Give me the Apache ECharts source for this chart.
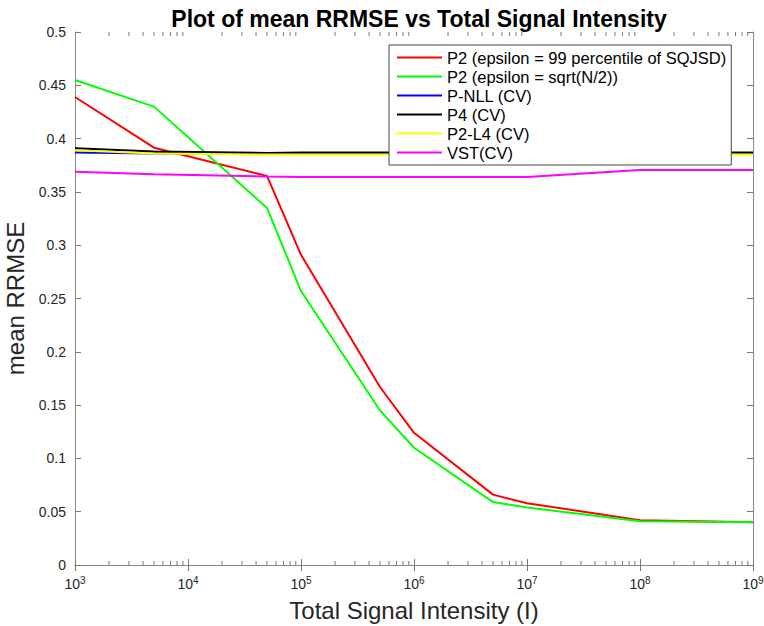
<!DOCTYPE html>
<html>
<head>
<meta charset="utf-8">
<script src="https://cdn.jsdelivr.net/npm/echarts@6/dist/echarts.min.js"></script>
<style>
  html, body { margin: 0; padding: 0; background: #fff; }
  #chart { width: 764px; height: 626px; }
</style>
</head>
<body>
<div id="chart"></div>
<script>
(function() {
  var font = '"Liberation Sans", Arial, Helvetica, sans-serif';

  // total signal intensity (x) sample points
  var intensity = [1e3, 5e3, 5e4, 1e5, 5e5, 1e6, 5e6, 1e7, 1e8, 1e9];

  var names = [
    'P2 (epsilon = 99 percentile of SQJSD)',
    'P2 (epsilon = sqrt(N/2))',
    'P-NLL (CV)',
    'P4 (CV)',
    'P2-L4 (CV)',
    'VST(CV)'
  ];
  var colors = ['#ff0000', '#00ff00', '#0000ff', '#000000', '#ffff00', '#ff00ff'];

  var p2Sqjsd = [0.439, 0.3915, 0.365, 0.291, 0.167, 0.124, 0.066, 0.058, 0.042, 0.040];
  var p2Sqrt  = [0.455, 0.430, 0.335, 0.257, 0.145, 0.110, 0.059, 0.054, 0.041, 0.040];
  var pNll    = [0.387, 0.386, 0.386, 0.386, 0.386, 0.386, 0.386, 0.386, 0.386, 0.386];
  var p4      = [0.391, 0.388, 0.3865, 0.387, 0.387, 0.387, 0.387, 0.387, 0.387, 0.387];
  var p2L4    = [0.389, 0.386, 0.385, 0.385, 0.385, 0.385, 0.385, 0.385, 0.385, 0.385];
  var vst     = [0.369, 0.3665, 0.3645, 0.364, 0.364, 0.364, 0.364, 0.364, 0.3705, 0.3705];
  var seriesValues = [p2Sqjsd, p2Sqrt, pNll, p4, p2L4, vst];

  // minor ticks of the log axis: 2..9 x 10^k
  var minorTicks = [];
  for (var k = 3; k < 9; k++) {
    for (var m = 2; m <= 9; m++) minorTicks.push(m * Math.pow(10, k));
  }

  var chart = echarts.init(document.getElementById('chart'), null, { renderer: 'svg' });

  var series = names.map(function(name, i) {
    return {
      name: name,
      type: 'line',
      data: intensity.map(function(x, j) { return [x, seriesValues[i][j]]; }),
      symbol: 'none',
      lineStyle: { color: colors[i], width: 2 },
      itemStyle: { color: colors[i] },
      z: 3 + i
    };
  });

  series.push({
    type: 'custom',
    silent: true,
    clip: false,
    data: minorTicks.map(function(v) { return [v]; }),
    renderItem: function(params, api) {
      var b = api.coord([api.value(0), 0]);
      var t = api.coord([api.value(0), 0.5]);
      var st = { stroke: '#777', lineWidth: 1 };
      return {
        type: 'group',
        children: [
          { type: 'line', shape: { x1: b[0], y1: b[1], x2: b[0], y2: b[1] - 4 }, style: st },
          { type: 'line', shape: { x1: t[0], y1: t[1], x2: t[0], y2: t[1] + 4 }, style: st }
        ]
      };
    },
    z: 2
  });

  var axisLine = { show: true, lineStyle: { color: '#888', width: 1 } };

  chart.setOption({
    animation: false,
    textStyle: { fontFamily: font },
    title: {
      text: 'Plot of mean RRMSE vs Total Signal Intensity',
      left: 414,
      top: 2,
      textAlign: 'center',
      textStyle: { fontFamily: font, fontSize: 23, fontWeight: 'bold', color: '#000' }
    },
    legend: {
      data: names,
      orient: 'vertical',
      left: 389,
      top: 45,
      z: 20,
      padding: [4, 5, 4, 8],
      itemGap: 2,
      itemWidth: 45,
      itemHeight: 2,
      icon: 'rect',
      backgroundColor: '#fff',
      borderColor: '#444',
      borderWidth: 1,
      textStyle: { fontFamily: font, fontSize: 16.5, color: '#000' }
    },
    grid: { left: 75, right: 11, top: 32, bottom: 61, outerBoundsMode: 'none' },
    xAxis: [{
      type: 'log',
      logBase: 10,
      min: 1e3,
      max: 1e9,
      interval: 1,
      name: 'Total Signal Intensity (I)',
      nameLocation: 'middle',
      nameGap: 33,
      nameTextStyle: { fontFamily: font, fontSize: 24, color: '#262626' },
      axisLine: axisLine,
      axisTick: { show: true, inside: true, length: 6, lineStyle: { color: '#777' } },
      splitLine: { show: false },
      axisLabel: {
        margin: 10,
        formatter: function(v) {
          return '{b|10}{s|' + Math.round(Math.log(v) / Math.LN10) + '}';
        },
        rich: {
          b: { fontFamily: font, fontSize: 14, color: '#262626' },
          s: { fontFamily: font, fontSize: 10, color: '#262626', verticalAlign: 'top', padding: [0, 0, 8, 0] }
        }
      }
    }, {
      type: 'log',
      logBase: 10,
      min: 1e3,
      max: 1e9,
      interval: 1,
      position: 'top',
      axisLine: axisLine,
      axisTick: { show: true, inside: true, length: 6, lineStyle: { color: '#777' } },
      axisLabel: { show: false },
      splitLine: { show: false }
    }],
    yAxis: [{
      type: 'value',
      min: 0,
      max: 0.5,
      interval: 0.05,
      name: 'mean RRMSE',
      nameLocation: 'middle',
      nameGap: 44,
      nameTextStyle: { fontFamily: font, fontSize: 24, color: '#262626' },
      axisLine: axisLine,
      axisTick: { show: true, inside: true, length: 6, lineStyle: { color: '#777' } },
      splitLine: { show: false },
      axisLabel: { fontFamily: font, fontSize: 14, color: '#262626', margin: 9 }
    }, {
      type: 'value',
      min: 0,
      max: 0.5,
      interval: 0.05,
      position: 'right',
      axisLine: axisLine,
      axisTick: { show: true, inside: true, length: 6, lineStyle: { color: '#777' } },
      axisLabel: { show: false },
      splitLine: { show: false }
    }],
    series: series
  });
  window.addEventListener('resize', function() { chart.resize(); });
})();
</script>
</body>
</html>
